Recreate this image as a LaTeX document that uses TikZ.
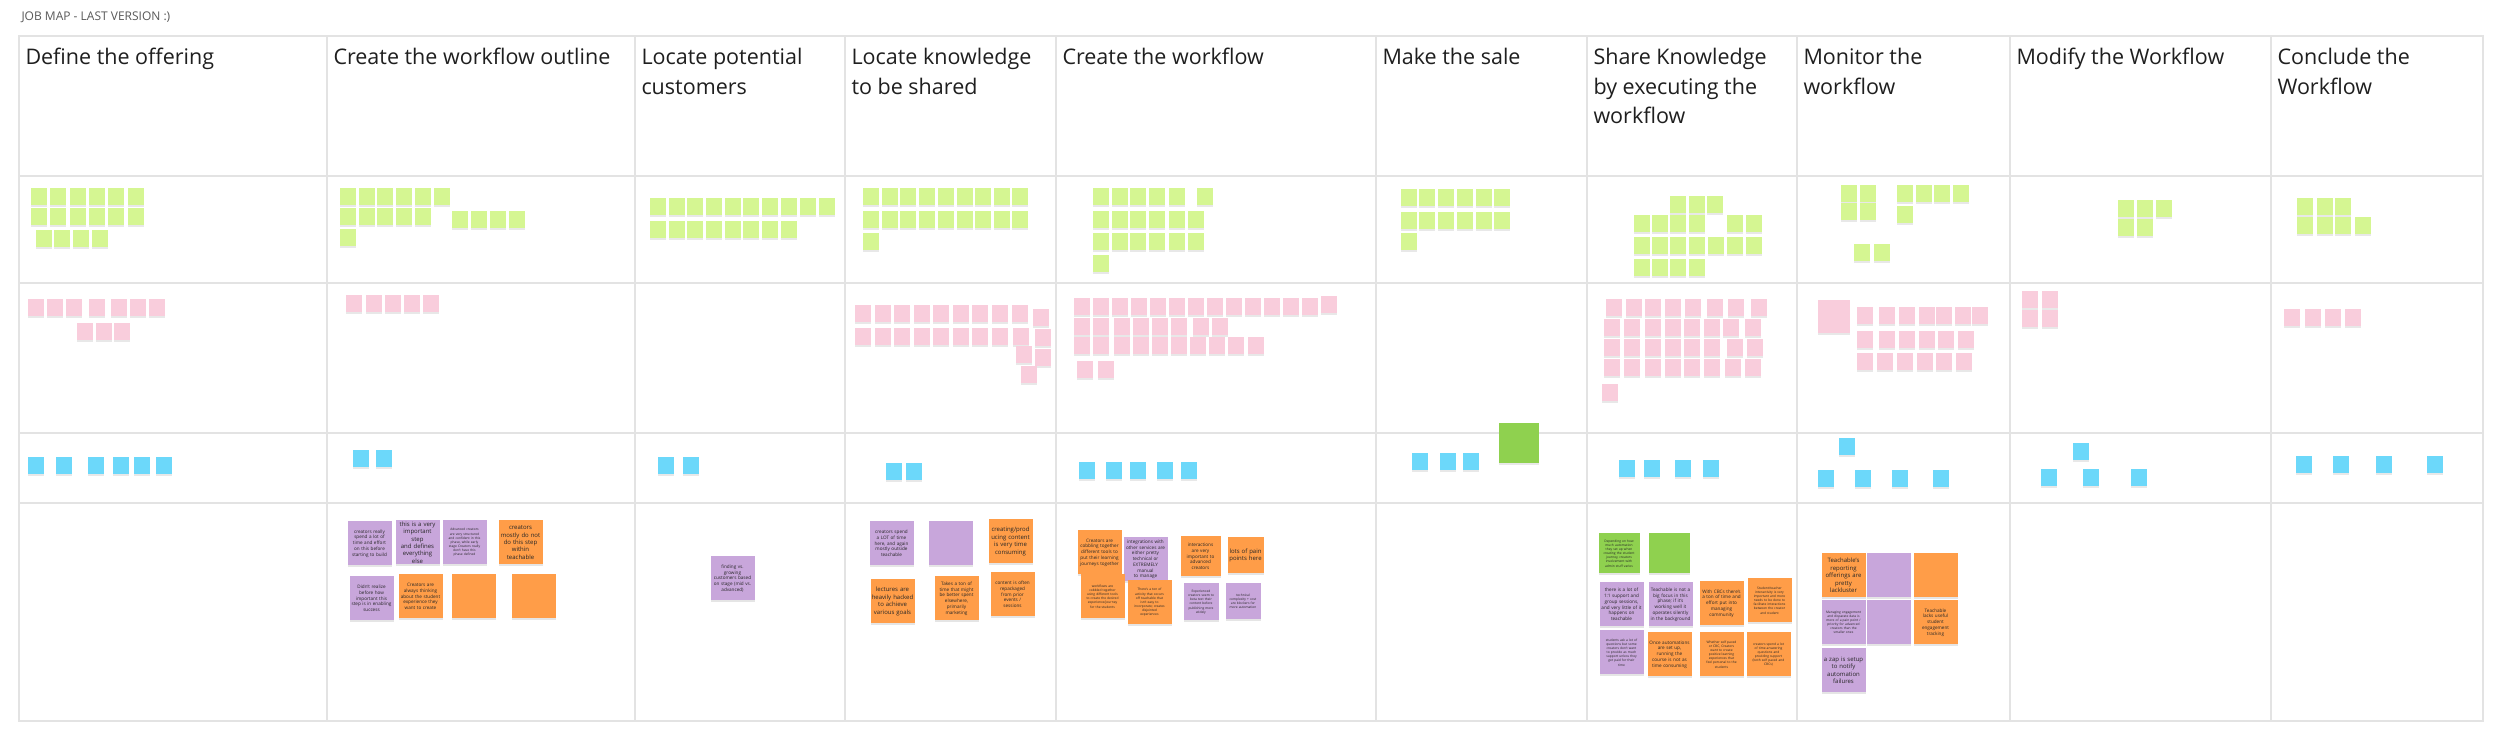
\documentclass[tikz,border=0pt]{standalone}
\usepackage{fontspec}
\setmainfont{Open Sans}
\usetikzlibrary{shadows}

\definecolor{gridline}{HTML}{E3E3E3}
\definecolor{lime}{HTML}{D5F692}
\definecolor{rose}{HTML}{F9CDDC}
\definecolor{sky}{HTML}{6CD8FA}
\definecolor{lilac}{HTML}{C8A6DB}
\definecolor{tangerine}{HTML}{FF9D48}
\definecolor{leaf}{HTML}{8FD14F}

\tikzset{
  note/.style={anchor=north west, inner sep=0pt, minimum width=6.4pt, minimum height=6.8pt,
    drop shadow={shadow xshift=0pt, shadow yshift=-0.6pt, opacity=0.18}},
  greennote/.style={note, fill=lime},
  pinknote/.style={note, fill=rose},
  bluenote/.style={note, fill=sky},
  card/.style={anchor=north west, inner sep=0.5pt, minimum height=17.6pt, text width=16.6pt,
    align=center, text=black!85, font=\fontsize{1.85}{2.3}\selectfont,
    drop shadow={shadow xshift=0pt, shadow yshift=-0.8pt, opacity=0.2}},
  purplecard/.style={card, fill=lilac},
  orangecard/.style={card, fill=tangerine},
  greencard/.style={card, fill=leaf},
  small/.style={font=\fontsize{1.3}{1.65}\selectfont},
  large/.style={font=\fontsize{2.4}{2.95}\selectfont},
  heading/.style={anchor=north west, inner sep=0pt, align=left, font=\fontsize{8.6}{11.8}\selectfont, text=black!88}
}

\begin{document}
\begin{tikzpicture}[x=0.4pt, y=-0.4pt]
\useasboundingbox (0,0) rectangle (2500,737);
\fill[white] (0,0) rectangle (2500,737);

\node[anchor=west, inner sep=0pt, font=\fontsize{4.8}{5.5}\selectfont, text=black!65] (title) at (21,17) {JOB MAP - LAST VERSION :)};

\draw[gridline, line width=0.5pt] (19,36) rectangle (2483,721);
\foreach \x in {327,635,845,1056,1376,1587,1797,2010,2271}
  \draw[gridline, line width=0.5pt] (\x,36) -- (\x,721);
\foreach \y in {176,283,433,503}
  \draw[gridline, line width=0.5pt] (19,\y) -- (2483,\y);

\node[heading] (h1) at (25,48) {Define the offering};
\node[heading] (h2) at (333,48) {Create the workflow outline};
\node[heading] (h3) at (641,48) {Locate potential\\customers};
\node[heading] (h4) at (851,48) {Locate knowledge\\to be shared};
\node[heading] (h5) at (1062,48) {Create the workflow};
\node[heading] (h6) at (1382,48) {Make the sale};
\node[heading] (h7) at (1593,48) {Share Knowledge\\by executing the\\workflow};
\node[heading] (h8) at (1803,48) {Monitor the\\workflow};
\node[heading] (h9) at (2016,48) {Modify the Workflow};
\node[heading] (h10) at (2277,48) {Conclude the\\Workflow};

% green row
\foreach \x/\y in {30/188,49/188,69/188,88/188,107/188,127/188,
                   30/208,49/208,69/208,88/208,107/208,127/208,
                   35/230,53/230,72/230,91/230,
                   339/188,358/188,376/188,395/188,414/188,433/188,
                   339/208,358/208,376/208,395/208,414/208,451/211,470/211,489/211,508/211,
                   339/229,
                   649/198,668/198,686/198,705/198,724/198,742/198,761/198,780/198,799/198,818/198,
                   649/221,668/221,686/221,705/221,724/221,742/221,761/221,780/221,
                   862/188,881/188,899/188,918/188,937/188,956/188,974/188,993/188,1011/188,
                   862/211,881/211,899/211,918/211,937/211,956/211,974/211,993/211,1011/211,
                   862/233,
                   1092/188,1111/188,1129/188,1148/188,1168/188,1196/188,
                   1092/211,1111/211,1129/211,1148/211,1168/211,1187/211,
                   1092/233,1111/233,1129/233,1148/233,1168/233,1187/233,
                   1092/255,
                   1400/189,1418/189,1437/189,1456/189,1475/189,1493/189,
                   1400/212,1418/212,1437/212,1456/212,1475/212,1493/212,
                   1400/233,
                   1669/196,1688/196,1706/196,
                   1633/215,1651/215,1669/215,1688/215,1726/215,1745/215,
                   1633/237,1651/237,1669/237,1688/237,1707/237,1726/237,1745/237,
                   1633/259,1651/259,1669/259,1688/259,
                   1840/185,1859/185,1896/185,1915/185,1933/185,1952/185,
                   1840/203,1859/203,1896/206,
                   1853/244,1873/244,
                   2117/200,2136/200,2155/200,2117/219,2136/219,
                   2296/198,2316/198,2334/198,2296/217,2316/217,2334/217,2354/217}
  \node[greennote] (g-\x-\y) at (\x,\y) {};

% pink row
\foreach \x/\y in {27/299,46/299,65/299,88/299,110/299,129/299,148/299,
                   76/323,95/323,113/323,
                   345/295,365/295,384/295,403/295,422/295,
                   854/305,874/305,893/305,913/305,932/305,952/305,971/305,991/305,1011/305,1032/309,
                   854/328,874/328,893/328,913/328,932/328,952/328,971/328,991/328,1012/328,1034/329,
                   1015/346,1034/349,1020/366,
                   1073/298,1092/298,1111/298,1130/298,1149/298,1168/298,1187/298,1206/298,
                   1225/298,1244/298,1263/298,1282/298,1301/298,1320/296,
                   1073/318,1092/318,1113/318,1132/318,1151/318,1170/318,1192/318,1211/318,
                   1073/337,1092/337,1113/337,1132/337,1151/337,1170/337,1189/337,1208/337,1227/337,1247/337,
                   1076/361,1097/361,
                   1605/299,1625/299,1644/299,1664/299,1684/299,1706/299,1727/299,1750/299,
                   1603/319,1623/319,1644/319,1664/319,1683/319,1703/319,1722/319,1744/319,
                   1603/339,1623/339,1644/339,1664/339,1683/339,1703/339,1726/339,1746/339,
                   1603/359,1623/359,1644/359,1664/359,1683/359,1703/359,1724/359,1744/359,
                   1601/384,
                   1856/307,1878/307,1898/307,1918/307,1935/307,1954/307,1971/307,
                   1856/331,1878/331,1898/331,1918/331,1937/331,1957/331,
                   1856/353,1876/353,1896/353,1916/353,1935/353,1955/353,
                   2021/291,2041/291,2021/310,2041/310,
                   2283/309,2304/309,2324/309,2344/309}
  \node[pinknote] (p-\x-\y) at (\x,\y) {};
\node[pinknote, minimum width=12.8pt, minimum height=13.2pt] (pbig) at (1817,300) {};

% blue row
\foreach \x/\y in {27/457,55/457,87/457,112/457,133/457,155/457,
                   352/450,375/450,
                   657/457,682/457,
                   885/463,905/463,
                   1078/462,1105/462,1129/462,1156/462,1180/462,
                   1411/453,1439/453,1462/453,
                   1618/460,1643/460,1674/460,1702/460,
                   1838/438,1817/470,1854/470,1891/470,1932/470,
                   2072/443,2040/469,2082/469,2130/469,
                   2295/456,2332/456,2375/456,2426/456}
  \node[bluenote] (b-\x-\y) at (\x,\y) {};
\node[note, fill=leaf, minimum width=16pt, minimum height=16pt] (gsale) at (1498,423) {};

% bottom row
\node[purplecard] (c2a) at (347,521) {creators really\\spend a lot of\\time and effort\\on this before\\starting to build};
\node[purplecard, large] (c2b) at (395,520) {this is a very\\important step\\and defines\\everything else};
\node[purplecard, small] (c2c) at (442,520) {Advanced creators\\are very structured\\and confident in this\\phase, while early\\stage Creators really\\don't have this\\phase defined};
\node[orangecard, large] (c2d) at (498,520) {creators\\mostly do not\\do this step\\within\\teachable};
\node[purplecard] (c2e) at (349,576) {Didn't realize\\before how\\important this\\step is in enabling\\success};
\node[orangecard] (c2f) at (398,574) {Creators are\\always thinking\\about the student\\experience they\\want to create};
\node[orangecard, small] (c2g) at (451,574) {};
\node[orangecard, small] (c2h) at (511,574) {};

\node[purplecard] (c3a) at (710,556) {finding vs.\\growing\\customers based\\on stage (mid vs.\\advanced)};

\node[purplecard] (c4a) at (869,521) {creators spend\\a LOT of time\\here, and again\\mostly outside\\teachable};
\node[purplecard, small] (c4b) at (928,521) {};
\node[orangecard, large] (c4c) at (988,519) {creating/prod\\ucing content\\is very time\\consuming};
\node[orangecard, large] (c4d) at (870,579) {lectures are\\heavily hacked\\to achieve\\various goals};
\node[orangecard] (c4e) at (934,576) {Takes a ton of\\time that might\\be better spent\\elsewhere,\\primarily\\marketing};
\node[orangecard] (c4f) at (990,572) {content is often\\repackaged\\from prior\\events /\\sessions};

\node[orangecard] (c5a) at (1077,530) {Creators are\\cobbling together\\different tools to\\put their learning\\journeys together};
\node[purplecard] (c5b) at (1123,537) {integrations with\\other services are\\either pretty\\technical or\\EXTREMELY manual\\to manage};
\node[orangecard, text width=15pt, minimum height=16pt] (c5c) at (1180,536) {interactions\\are very\\important to\\advanced\\creators};
\node[orangecard, large, text width=13.4pt, minimum height=14.4pt] (c5d) at (1227,537) {lots of pain\\points here};
\node[orangecard, small] (c5e) at (1080,574) {workflows are\\cobbled together\\using different tools\\to create the desired\\experience/journey\\for the students};
\node[orangecard, small] (c5f) at (1127,580) {There's a ton of\\activity that occurs\\off teachable that\\isn't easy to\\incorporate; creates\\disjointed\\experiences};
\node[purplecard, small, text width=13pt, minimum height=14.8pt] (c5g) at (1183,583) {Experienced\\creators seem to\\beta test their\\content before\\publishing more\\widely};
\node[purplecard, small, text width=13pt, minimum height=14.4pt] (c5h) at (1225,583) {technical\\complexity + cost\\are blockers for\\more automation};

\node[greencard, small, text width=15.4pt, minimum height=16pt] (c7a) at (1598,533) {Depending on how\\much automation\\they set up when\\creating the student\\journey, creators\\involvement with\\admin stuff varies};
\node[greencard, small, text width=15.4pt, minimum height=16pt] (c7b) at (1648,533) {};
\node[purplecard] (c7c) at (1599,582) {there is a lot of\\1:1 support and\\group sessions,\\and very little of it\\happens on\\teachable};
\node[purplecard] (c7d) at (1648,582) {Teachable is not a\\big focus in this\\phase; if it's\\working well it\\operates silently\\in the background};
\node[orangecard] (c7e) at (1699,581) {With CBCs there's\\a ton of time and\\effort put into\\managing\\community};
\node[orangecard, small] (c7f) at (1747,578) {Student/teacher\\interactivity is very\\important and more\\needs to be done to\\facilitate interactions\\between the creator\\and student};
\node[purplecard, small] (c7g) at (1599,630) {students ask a lot of\\questions but some\\creators don't want\\to provide as much\\support unless they\\get paid for their\\time};
\node[orangecard] (c7h) at (1647,632) {Once automations\\are set up,\\running the\\course is not as\\time consuming};
\node[orangecard, small] (c7i) at (1699,632) {Whether self paced\\or CBC, Creators\\want to create\\positive learning\\experiences that\\feel personal to the\\students};
\node[orangecard, small] (c7j) at (1746,632) {creators spend a lot\\of time answering\\questions and\\providing support\\(both self paced and\\CBCs)};

\node[orangecard, large] (c8a) at (1821,553) {Teachable's\\reporting\\offerings are\\pretty\\lackluster};
\node[purplecard, small] (c8b) at (1821,600) {Managing engagement\\and disparate data is\\more of a pain point /\\priority for advanced\\creators than the\\smaller ones};
\node[purplecard, large] (c8c) at (1821,648) {a zap is setup\\to notify\\automation\\failures};
\node[purplecard, small] (c8d) at (1866,553) {};
\node[orangecard, small] (c8e) at (1913,553) {};
\node[purplecard, small] (c8f) at (1866,600) {};
\node[orangecard] (c8g) at (1913,600) {Teachable\\lacks useful\\student\\engagement\\tracking};
\end{tikzpicture}
\end{document}
